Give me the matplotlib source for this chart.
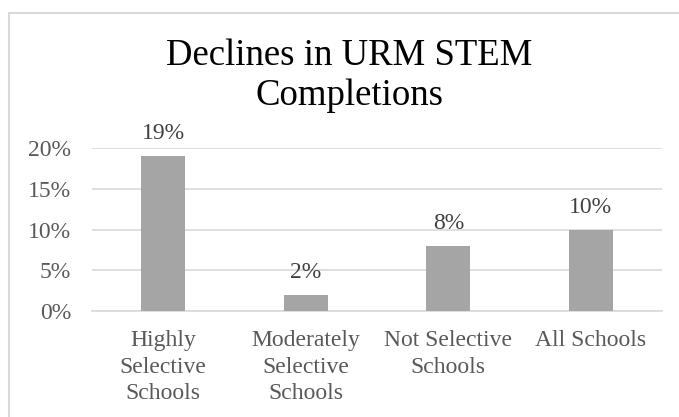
import matplotlib
matplotlib.use("Agg")
import matplotlib.pyplot as plt
from matplotlib.patches import Rectangle
from matplotlib.ticker import FuncFormatter

categories = ["Highly\nSelective\nSchools", "Moderately\nSelective\nSchools", "Not Selective\nSchools", "All Schools"]
values = [0.19, 0.02, 0.08, 0.10]
labels = ["19%", "2%", "8%", "10%"]
yticks = [0.0, 0.05, 0.10, 0.15, 0.20]
title = "Declines in URM STEM\nCompletions"

plt.rcParams['font.family'] = ['Liberation Serif', 'DejaVu Serif']

W, H = 679, 417
fig = plt.figure(figsize=(W / 100, H / 100), dpi=100)
ax = fig.add_axes([92 / W, 1 - 311 / H, (662 - 92) / W, (311 - 148) / H])

x = list(range(len(categories)))
bars = ax.bar(x, values, width=0.31, color="#A5A5A5", zorder=3)
for xi, v, lab in zip(x, values, labels):
    ax.annotate(lab, (xi, v), xytext=(0, 12), textcoords="offset points",
                ha="center", va="baseline", fontsize=17, color="#404040",
                annotation_clip=False)

ax.set_xlim(-0.5, len(categories) - 0.5)
ax.set_ylim(0, 0.20)
ax.set_yticks(yticks)
ax.yaxis.set_major_formatter(FuncFormatter(lambda v, p: f"{v*100:.0f}%"))
ax.set_xticks(x)
ax.set_xticklabels(categories, linespacing=1.33)
ax.tick_params(axis="both", length=0, labelsize=17, colors="#595959")
ax.tick_params(axis="y", pad=15)
ax.tick_params(axis="x", pad=14)
ax.grid(axis="y", color="#D9D9D9", linewidth=1.2, zorder=0)
for s in ["top", "right", "left"]:
    ax.spines[s].set_visible(False)
ax.spines["bottom"].set_color("#D9D9D9")
ax.spines["bottom"].set_linewidth(1.2)

fig.text(349.5 / W, 1 - 105 / H, title, ha="center", va="baseline", fontsize=26.5,
         color="#000000", linespacing=1.2)

fig.patches.append(Rectangle((9 / W, -0.1), 1.2, (H - 13) / H + 0.1,
                             transform=fig.transFigure, fill=False,
                             edgecolor="#D9D9D9", linewidth=1.5))

fig.savefig("out.png", dpi=100, facecolor="white")
